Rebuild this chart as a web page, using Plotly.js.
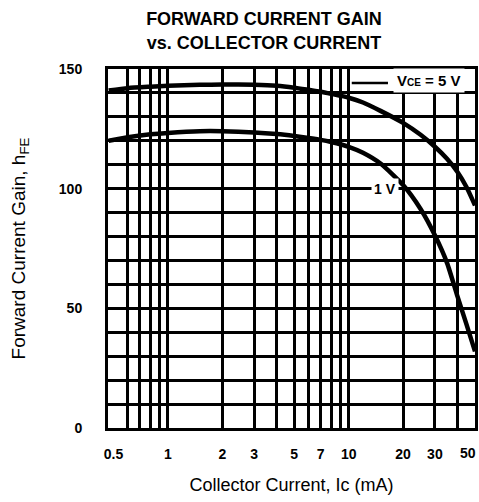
<!DOCTYPE html>
<html>
<head>
<meta charset="utf-8">
<script src="https://cdn.plot.ly/plotly-3.0.1.min.js"></script>
<style>html,body{margin:0;padding:0;background:#fff;}#chart{width:479px;height:502px;}</style>
</head>
<body>
<div id="chart"></div>
<script>
// Collector current (mA)
var current = [0.47, 0.6, 0.8, 1, 1.5, 2, 3, 4, 5, 6, 7, 8, 10, 12, 15, 20, 25, 30, 35, 40, 45, 50];
// Forward current gain hFE at VCE = 5 V
var hfe5V = [141, 142, 142.6, 143, 143.4, 143.5, 143.4, 143, 142.2, 141.3, 140.5, 139.6, 138, 136, 132.5, 127.5, 122.5, 117.5, 112.5, 107, 100.5, 93];
// Forward current gain hFE at VCE = 1 V
var hfe1V = [120, 121.5, 122.7, 123.3, 124, 124, 123.5, 122.8, 122, 121.2, 120.4, 119.5, 117.5, 115, 110.5, 101.5, 91.5, 80.5, 69, 55, 43, 32];

var xTickVals = [0.5, 1, 2, 3, 5, 7, 10, 20, 30];
var xTickText = ['0.5', '1', '2', '3', '5', '7', '10', '20', '30'];
var xLastTick = 50;           // last x tick, labelled at the right edge
var xLastTickText = '50';
var xGridVals = [0.6, 0.7, 0.8, 0.9, 1, 2, 3, 4, 5, 6, 7, 8, 9, 10, 20, 30, 40];
var yTickVals = [0, 50, 100, 150];
var yTickText = ['0', '50', '100', '150'];

var lineStyle = {color: '#000', width: 4.5, shape: 'spline', smoothing: 0.6};

var traces = [
  {x: current, y: hfe5V, type: 'scatter', mode: 'lines', name: 'VCE = 5 V', line: lineStyle, hoverinfo: 'x+y'},
  {x: current, y: hfe1V, type: 'scatter', mode: 'lines', name: 'VCE = 1 V', line: lineStyle, hoverinfo: 'x+y'}
];

var tickFont = {family: 'Liberation Sans, Arial, sans-serif', size: 14, color: '#000', weight: 'bold'};
var titleFont = {family: 'Liberation Sans, Arial, sans-serif', size: 18, color: '#000'};

var layout = {
  width: 479, height: 502,
  margin: {l: 108, r: 4, t: 69, b: 74},
  paper_bgcolor: '#fff', plot_bgcolor: '#fff',
  showlegend: false,
  title: {
    text: 'FORWARD CURRENT GAIN<br>vs. COLLECTOR CURRENT',
    font: {family: 'Liberation Sans, Arial, sans-serif', size: 18, color: '#000', weight: 'bold'},
    xref: 'paper', x: 0.425, xanchor: 'center',
    yref: 'container', y: 0.95, yanchor: 'top'
  },
  xaxis: {
    type: 'log',
    range: [Math.log10(0.466), Math.log10(50)],
    tickmode: 'array', tickvals: xTickVals, ticktext: xTickText,
    showgrid: false, zeroline: false,
    ticks: '', ticklabelstandoff: 11,
    tickfont: tickFont,
    showline: true, mirror: true, linecolor: '#000', linewidth: 3,
    minor: {tickmode: 'array', tickvals: xGridVals, showgrid: true, gridcolor: '#000', gridwidth: 3, ticks: ''},
    title: {text: 'Collector Current, Ic (mA)', font: titleFont, standoff: 18},
    fixedrange: true
  },
  yaxis: {
    range: [0, 150],
    tickmode: 'array', tickvals: yTickVals, ticktext: yTickText,
    showgrid: true, gridcolor: '#000', gridwidth: 3, zeroline: false,
    ticks: '', ticklabelstandoff: 20,
    tickfont: tickFont,
    showline: true, mirror: true, linecolor: '#000', linewidth: 3,
    minor: {dtick: 10, showgrid: true, gridcolor: '#000', gridwidth: 3, ticks: ''},
    title: {text: 'Forward Current Gain, h<sub>FE</sub>', font: {family: 'Liberation Sans, Arial, sans-serif', size: 19, color: '#000'}, standoff: 29},
    fixedrange: true
  },
  shapes: [
    {type: 'line', xref: 'x', yref: 'y', x0: 10.4, x1: 16.5, y0: 144.2, y1: 144.2, line: {color: '#000', width: 2.5}}
  ],
  annotations: [
    {x: Math.log10(28), y: 145, xref: 'x', yref: 'y', showarrow: false,
     text: 'V<span style="font-size:10px">CE</span> = 5 V',
     font: {family: 'Liberation Sans, Arial, sans-serif', size: 15, color: '#000', weight: 'bold'},
     bgcolor: '#fff', borderpad: 3},
    {x: Math.log10(15.8), y: 100, xref: 'x', yref: 'y', showarrow: false,
     text: '1 V',
     font: {family: 'Liberation Sans, Arial, sans-serif', size: 14, color: '#000', weight: 'bold'},
     bgcolor: '#fff', borderpad: 2},
    {x: Math.log10(xLastTick), y: 0, xref: 'x', yref: 'paper', showarrow: false,
     xanchor: 'right', yanchor: 'top', xshift: 3, yshift: -15,
     text: xLastTickText, font: tickFont}
  ]
};

Plotly.newPlot('chart', traces, layout, {displayModeBar: false, staticPlot: true});
</script>
</body>
</html>
